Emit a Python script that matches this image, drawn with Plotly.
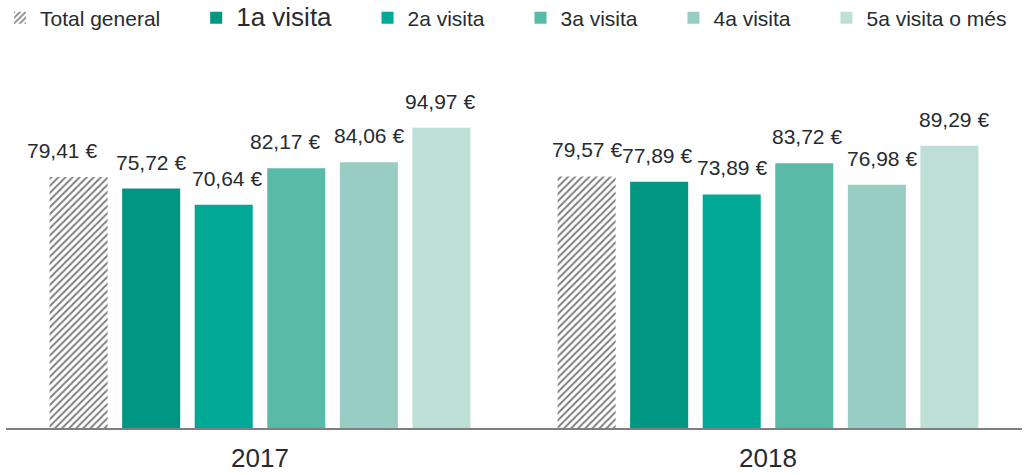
import plotly.graph_objects as go

years = ["2017", "2018"]
series_names = ["Total general", "1a visita", "2a visita", "3a visita", "4a visita", "5a visita o més"]
total_general = [79.41, 79.57]
visita_1 = [75.72, 77.89]
visita_2 = [70.64, 73.89]
visita_3 = [82.17, 83.72]
visita_4 = [84.06, 76.98]
visita_5 = [94.97, 89.29]
series_values = [total_general, visita_1, visita_2, visita_3, visita_4, visita_5]

# styling
colors = ["#ffffff", "#009682", "#00a896", "#5abaa8", "#98cdc3", "#bedfd6"]
legend_font_sizes = [21, 26, 21, 21, 21, 21]
# small horizontal nudges (px) of value labels, as in the reference layout
label_nudge = [[-17, 0], [0, -2], [3, 0], [-11, 3], [0, 5], [-1, 5]]
TEXT = "#262b30"

BARGAP = 0.143
BARGROUPGAP = 0.2
n = len(series_names)


def fmt(v):
    return f"{v:.2f}".replace(".", ",") + " €"


fig = go.Figure()
x_idx = list(range(len(years)))
pad = "\u00a0" * 5 + "\u200a"
for i, (name, vals) in enumerate(zip(series_names, series_values)):
    label = f"<span style='font-size:{legend_font_sizes[i]}px'>{name}</span>"
    if i < n - 1:
        label += pad
    if i == 0:
        marker = dict(color="#ffffff",
                      pattern=dict(shape="/", fgcolor="#000000", bgcolor="#ffffff",
                                   size=5, solidity=0.4),
                      line=dict(width=0))
    else:
        marker = dict(color=colors[i], line=dict(width=0))
    fig.add_trace(go.Bar(x=x_idx, y=vals, name=label, marker=marker,
                         hoverinfo="skip"))

# value labels above bars
group_w = 1 - BARGAP
slot = group_w / n
annotations = []
for i, vals in enumerate(series_values):
    for k, v in enumerate(vals):
        annotations.append(dict(
            x=k - group_w / 2 + (i + 0.5) * slot, y=v, xref="x", yref="y",
            text=fmt(v), showarrow=False, yanchor="bottom", yshift=13,
            xshift=label_nudge[i][k],
            font=dict(size=21, color=TEXT, family="Liberation Sans, Arial, sans-serif"),
        ))

fig.update_layout(
    width=1028, height=475,
    margin=dict(l=6, r=6, t=60, b=47, autoexpand=False),
    paper_bgcolor="white", plot_bgcolor="white",
    barmode="group", bargap=BARGAP, bargroupgap=BARGROUPGAP,
    font=dict(family="Liberation Sans, Arial, sans-serif", color=TEXT, size=21),
    showlegend=True,
    legend=dict(orientation="h", xref="container", yref="container",
                x=0.0, y=1 - 18 / 475, xanchor="left", yanchor="middle",
                font=dict(size=21, color=TEXT), itemclick=False,
                tracegroupgap=0, bgcolor="rgba(0,0,0,0)"),
    annotations=annotations,
    xaxis=dict(tickmode="array", tickvals=x_idx, ticktext=years,
               range=[-0.5, len(years) - 0.5], showgrid=False, zeroline=False,
               showline=True, linecolor="#7f7f7f", linewidth=2, automargin=False,
               ticks="", tickfont=dict(size=26, color=TEXT), ticklabelstandoff=6),
    yaxis=dict(range=[0, 116.4], visible=False, showgrid=False, zeroline=False),
)

fig.write_html("out.html", config={"displayModeBar": False},
               post_script="document.body.style.margin='0';document.body.style.overflow='hidden';")
